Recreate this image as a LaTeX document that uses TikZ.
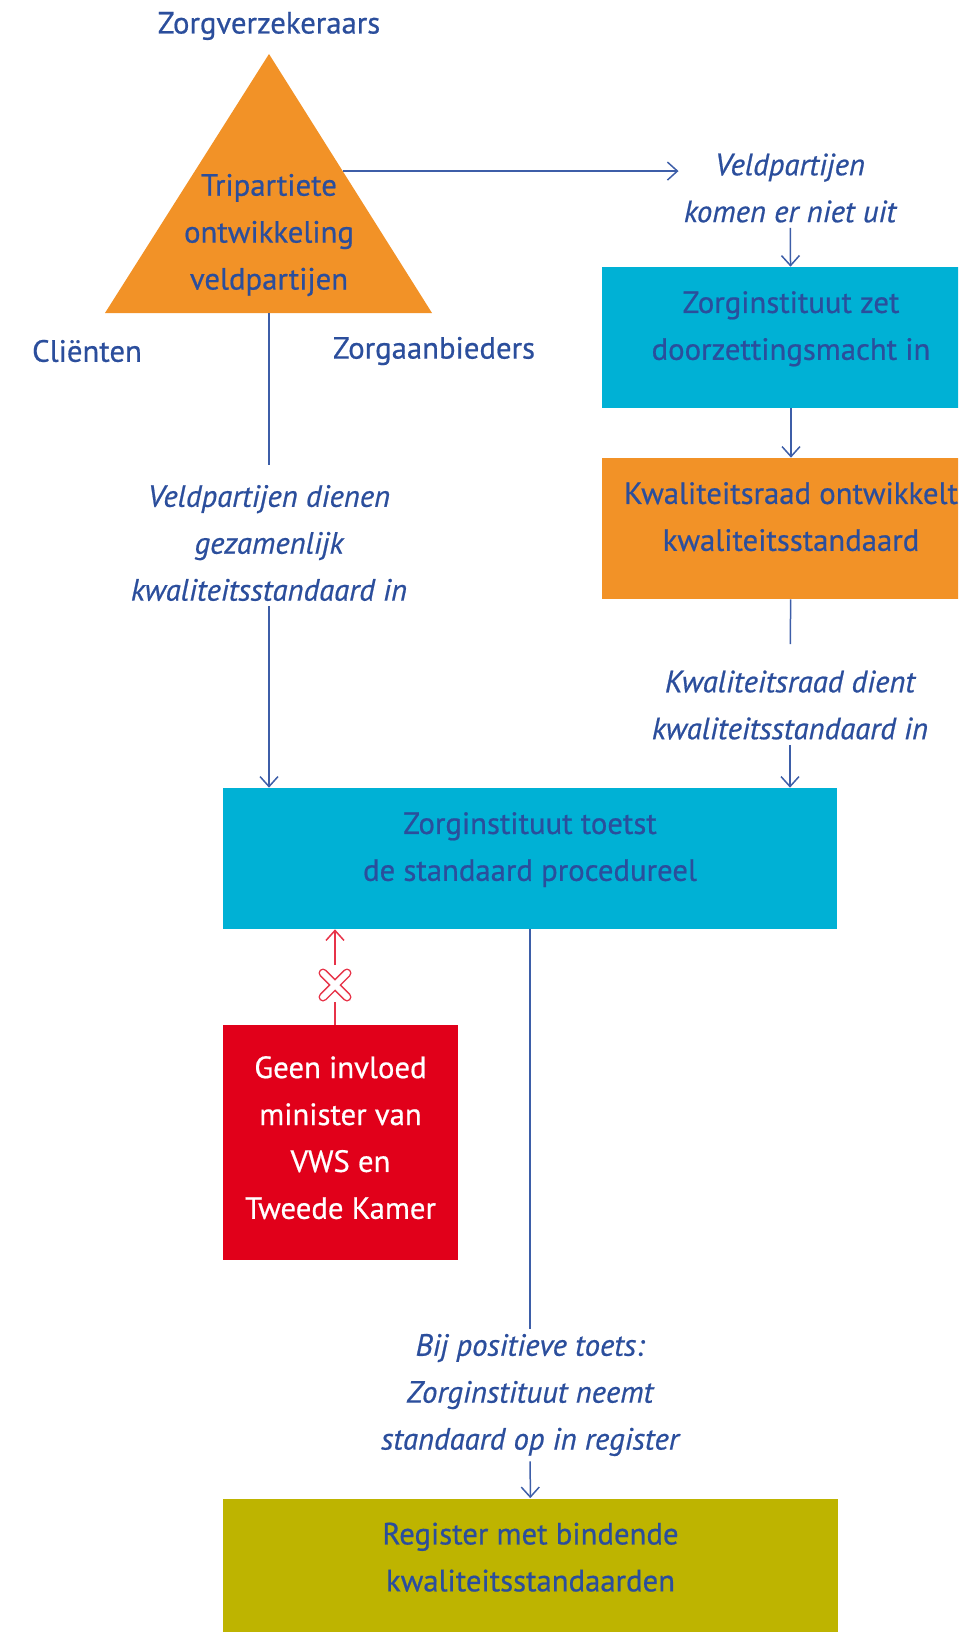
\documentclass[tikz,border=0pt]{standalone}
\usepackage{fontspec}
\setmainfont{PT Sans}[FakeBold=0.6]
\usetikzlibrary{arrows.meta,calc}
\definecolor{zblue}{HTML}{2B4E9C}
\definecolor{zline}{HTML}{3D5EA8}
\definecolor{zorange}{HTML}{F29227}
\definecolor{zcyan}{HTML}{00B1D5}
\definecolor{zred}{HTML}{E1001A}
\definecolor{zolive}{HTML}{BEB400}
\newcommand\zfont{\fontsize{17.5}{26.7}\selectfont}
\tikzset{
  ln/.style={draw=zline,line width=0.03cm},
  arr/.style={ln,-{Straight Barb[length=0.2cm,width=0.36cm]}},
  lbl/.style={align=center,font=\zfont\itshape,inner sep=0.1cm},
  zbox/.style={align=center,inner sep=0pt,minimum height=2.82cm,text depth=0.48cm},
  redln/.style={draw=zred!80,line width=0.03cm}
}

\begin{document}
\begin{tikzpicture}[x=0.02cm,y=-0.02cm,
    every node/.append style={text=zblue,font=\zfont}]
  \clip (0,0) rectangle (958,1632);
  \coordinate (T1) at (269,54);
  \coordinate (T2) at (432,313);
  \coordinate (T3) at (105,313);
  \fill[zorange] (T1) -- (T2) -- (T3) -- cycle;
  \coordinate (Tb) at (269,313);
  \coordinate (Tr) at ($(T1)!0.452!(T2)$);
  \node           (verz)  at (269,26)   {Zorgverzekeraars};
  \node[align=center] (trip) at (269,235) {Tripartiete\\ontwikkeling\\veldpartijen};
  \node           (clie)  at (87,351)   {Cliënten};
  \node           (aanb)  at (434,351)  {Zorgaanbieders};
  \node[lbl]      (veld)  at (790,188)  {Veldpartijen\\komen er niet uit};
  \node[zbox,fill=zcyan,minimum width=7.56cm]   (zet)   at (791,337.5)
        {Zorginstituut zet\\doorzettingsmacht in};
  \node[zbox,fill=zorange,minimum width=7.56cm] (ontw)  at (791,528.5)
        {Kwaliteitsraad ontwikkelt\\kwaliteitsstandaard};
  \node[lbl]      (dient) at (790,705)  {Kwaliteitsraad dient\\kwaliteitsstandaard in};
  \node[lbl]      (gez)   at (269,543)  {Veldpartijen dienen\\gezamenlijk\\kwaliteitsstandaard in};
  \node[zbox,fill=zcyan,minimum width=12.28cm]  (toetst) at (530,858.5)
        {Zorginstituut toetst\\de standaard procedureel};
  \node[align=center,fill=zred,text=white,minimum width=4.7cm,minimum height=4.7cm,inner sep=0pt,text depth=0.2cm]
        (geen)  at (340.5,1142.5) {Geen invloed\\minister van\\VWS en\\Tweede Kamer};
  \node[lbl]      (bij)   at (530,1395) {Bij positieve toets:\\Zorginstituut neemt\\standaard op in register};
  \node[zbox,fill=zolive,minimum width=12.3cm]  (reg)   at (530.5,1569)
        {Register met bindende\\kwaliteitsstandaarden};
  \coordinate (X) at (335,985);

  \draw[arr] (Tr) -- (Tr -| veld.west);
  \draw[arr] (veld) -- (zet);
  \draw[arr] (zet) -- (ontw);
  \draw[ln,shorten >=0.42cm] (ontw) -- (dient);
  \draw[arr] (dient) -- (dient |- toetst.north);
  \draw[ln,shorten >=0.3cm] (Tb) -- (gez);
  \draw[arr] (gez) -- (gez |- toetst.north);
  \draw[ln] (toetst.south) -- (bij);
  \draw[arr] (bij) -- (reg);
  \draw[redln] (geen.north -| X) -- ++(0,-23);
  \draw[redln,-{Straight Barb[length=0.2cm,width=0.36cm]}] ($(X)+(0,-20)$) -- (X |- toetst.south);
  \draw[zred!80,line width=0.18cm,line cap=round] (X) +(-12,-12) -- +(12,12) (X) +(-12,12) -- +(12,-12);
  \draw[white,line width=0.12cm,line cap=round] (X) +(-12,-12) -- +(12,12) (X) +(-12,12) -- +(12,-12);
\end{tikzpicture}
\end{document}
